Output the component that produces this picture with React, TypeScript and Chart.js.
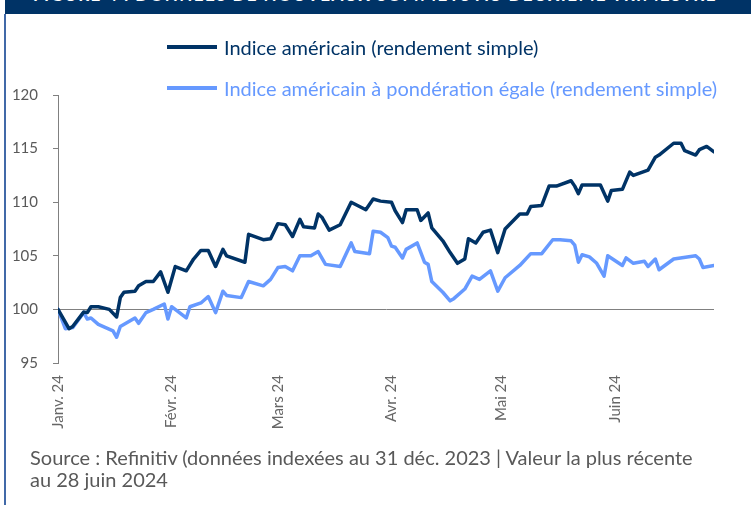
import React, { useEffect, useRef } from "react";
import { Chart, registerables } from "chart.js";

Chart.register(...registerables);

// Days since 1 Jan 2024 and index values (31 Dec 2023 = 100)
const darkDays = [0,3,4,7,8,9,11,14,16,17,18,21,22,24,26,28,30,32,35,37,39,41,43,45,46,51,52,56,58,60,62,64,66,67,70,71,72,74,77,80,84,86,88,91,92,94,95,98,99,101,102,105,107,109,111,112,114,116,118,120,122,126,128,129,132,134,136,140,141,142,143,148,150,151,154,156,157,161,163,164,168,170,171,174,175,177,179];
const darkValues = [100,98.2,98.4,99.75,99.7,100.25,100.25,100.0,99.3,101.1,101.6,101.7,102.2,102.6,102.6,103.5,101.6,104.0,103.6,104.7,105.5,105.5,104.0,105.6,105.0,104.4,107.0,106.5,106.6,108.0,107.9,106.8,108.4,107.7,107.6,108.9,108.6,107.4,107.9,110.0,109.3,110.3,110.1,110.0,109.2,108.1,109.3,109.3,108.3,109.0,107.6,106.4,105.3,104.3,104.7,106.6,106.2,107.2,107.4,105.3,107.5,108.9,108.9,109.6,109.7,111.5,111.5,112.0,111.5,110.8,111.6,111.6,110.1,111.1,111.2,112.8,112.5,113.0,114.2,114.4,115.5,115.5,114.8,114.4,114.9,115.2,114.7];

const lightDays = [0,2,4,7,8,9,11,15,16,17,21,22,24,26,29,30,31,35,36,39,41,43,45,46,50,52,56,58,60,62,64,66,69,71,73,77,80,81,85,86,88,90,91,92,94,95,98,100,101,102,105,107,108,111,113,115,118,120,122,126,129,132,135,137,140,141,142,143,145,147,149,150,154,155,157,160,161,163,164,168,174,175,176,179];
const lightValues = [100,98.2,98.3,99.7,99.1,99.2,98.6,98.0,97.4,98.4,99.2,98.7,99.7,100.0,100.5,99.1,100.25,99.2,100.25,100.6,101.2,99.7,101.7,101.3,101.1,102.6,102.2,102.8,103.9,104.0,103.6,105.0,105.0,105.4,104.2,104.0,106.2,105.4,105.2,107.3,107.2,106.7,105.9,105.8,104.8,105.6,106.2,104.4,104.2,102.6,101.6,100.8,101.0,101.9,103.1,102.8,103.6,101.7,102.95,104.1,105.2,105.2,106.5,106.5,106.4,106.0,104.4,105.1,104.9,104.3,103.1,105.0,104.1,104.8,104.3,104.5,104.0,104.7,103.7,104.7,105.0,104.7,103.9,104.1];

const tickDays = [0, 31, 60, 91, 121, 152];
const tickLabels = ["Janv. 24", "Févr. 24", "Mars 24", "Avr. 24", "Mai 24", "Juin 24"];
const yTicks = [95, 100, 105, 110, 115, 120];

const seriesNames = [
  "Indice américain (rendement simple)",
  "Indice américain à pondération égale (rendement simple)",
];
const seriesColors = ["#003366", "#6699FF"];

const titleText = "FIGURE 4 : DONNÉES DE NOUVEAUX SOMMETS AU DEUXIÈME TRIMESTRE";
const sourceLines = [
  "Source : Refinitiv (données indexées au 31 déc. 2023 | Valeur la plus récente",
  "au 28 juin 2024",
];

const FONT = "Lato, 'Open Sans', sans-serif";

export default function App() {
  const ref = useRef<HTMLCanvasElement>(null);

  useEffect(() => {
    if (!ref.current) return;
    const chart = new Chart(ref.current, {
      type: "line",
      data: {
        datasets: [
          {
            label: seriesNames[0],
            data: darkDays.map((d, i) => ({ x: d, y: darkValues[i] })),
            borderColor: seriesColors[0],
            borderWidth: 3.5,
            pointRadius: 0,
            tension: 0,
            borderJoinStyle: "round",
            borderCapStyle: "round",
          },
          {
            label: seriesNames[1],
            data: lightDays.map((d, i) => ({ x: d, y: lightValues[i] })),
            borderColor: seriesColors[1],
            borderWidth: 3.5,
            pointRadius: 0,
            tension: 0,
            borderJoinStyle: "round",
            borderCapStyle: "round",
          },
        ],
      },
      options: {
        responsive: false,
        animation: false,
        devicePixelRatio: 1,
        layout: { padding: { left: 0, right: 37, top: 95, bottom: 0 } },
        plugins: { legend: { display: false }, title: { display: false }, tooltip: { enabled: false } },
        scales: {
          x: {
            type: "linear",
            min: 0,
            max: 179,
            afterBuildTicks: (s: any) => {
              s.ticks = tickDays.map((v) => ({ value: v }));
            },
            afterFit: (s: any) => {
              s.height = 142;
            },
            ticks: {
              autoSkip: false,
              maxRotation: 90,
              minRotation: 90,
              padding: 12,
              color: "#666666",
              font: { family: FONT, size: 15 },
              callback: (_v: any, i: number) => tickLabels[i],
            },
            grid: { display: false, drawTicks: false },
            border: { display: false },
          },
          y: {
            min: 95,
            max: 120,
            afterBuildTicks: (s: any) => {
              s.ticks = yTicks.map((v) => ({ value: v }));
            },
            afterFit: (s: any) => {
              s.width = 58;
            },
            ticks: {
              padding: 15,
              color: "#595959",
              font: { family: FONT, size: 15 },
            },
            grid: {
              color: (c: any) => (c.tick && c.tick.value === 100 ? "#808080" : "rgba(0,0,0,0)"),
              tickColor: "#808080",
              tickLength: 5,
              lineWidth: 1,
            },
            border: { display: true, color: "#808080", width: 1 },
          },
        },
      },
    });
    return () => chart.destroy();
  }, []);

  return (
    <div style={{ position: "fixed", left: 0, top: 0, width: 751, height: 505, background: "#fff", overflow: "hidden" }}>
      <div style={{ position: "absolute", left: 5, top: 0, width: 746, height: 14, background: "#003366", overflow: "hidden" }}>
        <div style={{ position: "absolute", left: 28, top: -14, whiteSpace: "nowrap", color: "#fff", fontFamily: FONT, fontWeight: 700, fontSize: 17, lineHeight: "17px", letterSpacing: 1.4 }}>
          {titleText}
        </div>
      </div>
      <div style={{ position: "absolute", left: 4, top: 14, width: 2, height: 491, background: "#4169A8" }} />
      <canvas ref={ref} width={751} height={505} style={{ position: "absolute", left: 0, top: 0 }} />
      {seriesNames.map((name, i) => (
        <React.Fragment key={name}>
          <div style={{ position: "absolute", left: 167, top: (i === 0 ? 47 : 88) - 2, width: 50, height: 4, background: seriesColors[i] }} />
          <div style={{ position: "absolute", left: 224, top: (i === 0 ? 47 : 88) - 13, height: 26, lineHeight: "26px", fontFamily: FONT, fontSize: 20, color: seriesColors[i], whiteSpace: "nowrap" }}>
            {name}
          </div>
        </React.Fragment>
      ))}
      <div style={{ position: "absolute", left: 30, top: 446, fontFamily: FONT, fontSize: 20, lineHeight: "22px", color: "#595959", whiteSpace: "nowrap" }}>
        {sourceLines.map((l) => (
          <div key={l}>{l}</div>
        ))}
      </div>
    </div>
  );
}
